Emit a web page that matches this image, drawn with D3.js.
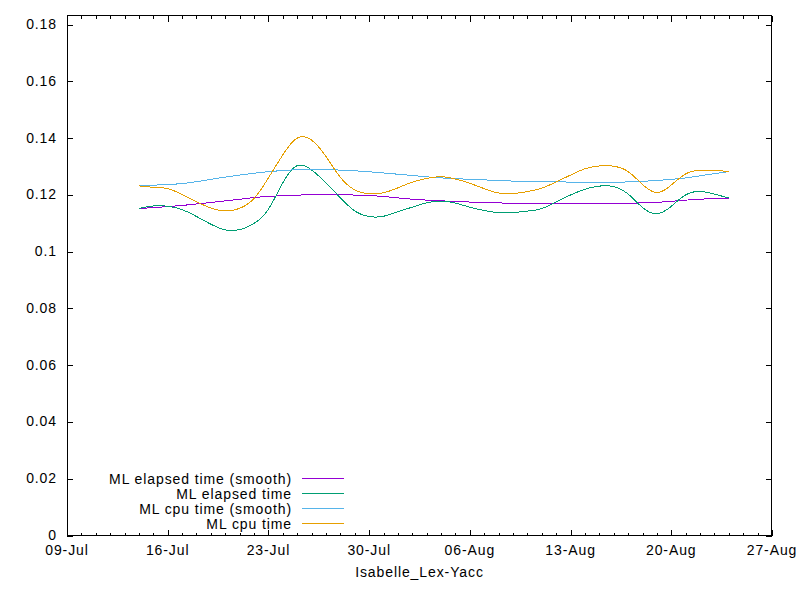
<!DOCTYPE html>
<html>
<head>
<meta charset="utf-8">
<script src="https://cdn.jsdelivr.net/npm/d3@7"></script>
<style>
body { margin: 0; background: #fff; }
text { font-family: "Liberation Sans", Arial, sans-serif; font-size: 14px; letter-spacing: 0.9px; fill: #000; }
</style>
</head>
<body>
<svg id="chart" width="800" height="600"></svg>
<script>
// one build per day, 14-Jul .. 24-Aug
var firstDay = "2018-07-14", lastDay = "2018-08-24";
var elapsed = [0.1152, 0.1161, 0.1160, 0.1148, 0.1124, 0.1097, 0.1077, 0.1078, 0.1100, 0.1150,
               0.1243, 0.1303, 0.1288, 0.1242, 0.1190, 0.1144, 0.1124, 0.1125, 0.1141, 0.1157,
               0.1172, 0.1178, 0.1171, 0.1157, 0.1145, 0.1138, 0.1138, 0.1143, 0.1152, 0.1176,
               0.1200, 0.1220, 0.1231, 0.1229, 0.1203, 0.1156, 0.1134, 0.1160, 0.1200, 0.1212,
               0.1203, 0.1189];
var cpu     = [0.1232, 0.1227, 0.1222, 0.1201, 0.1176, 0.1154, 0.1144, 0.1153, 0.1188, 0.1260,
               0.1341, 0.1400, 0.1393, 0.1335, 0.1262, 0.1218, 0.1204, 0.1208, 0.1225, 0.1245,
               0.1258, 0.1264, 0.1256, 0.1241, 0.1222, 0.1207, 0.1205, 0.1212, 0.1224, 0.1246,
               0.1270, 0.1292, 0.1302, 0.1301, 0.1282, 0.1237, 0.1209, 0.1235, 0.1274, 0.1287,
               0.1286, 0.1283];
// smoothed curves, read at a few dates
var elapsedSmoothDates = ["2018-07-14", "2018-07-17", "2018-07-20", "2018-07-23", "2018-07-27", "2018-07-30",
                          "2018-08-02", "2018-08-06", "2018-08-10", "2018-08-15", "2018-08-19", "2018-08-22", "2018-08-24"];
var elapsedSmooth = [0.1152, 0.1163, 0.1179, 0.1195, 0.1201, 0.1198, 0.1185, 0.1175, 0.1170, 0.1169, 0.1174, 0.1185, 0.1188];
var cpuSmoothDates = ["2018-07-14", "2018-07-17", "2018-07-20", "2018-07-23", "2018-07-26", "2018-07-29", "2018-08-01",
                      "2018-08-04", "2018-08-07", "2018-08-11", "2018-08-16", "2018-08-19", "2018-08-21", "2018-08-23", "2018-08-24"];
var cpuSmooth = [0.1233, 0.1240, 0.1263, 0.1282, 0.1290, 0.1285, 0.1273, 0.1260, 0.1253, 0.1246, 0.1245, 0.1251, 0.1260, 0.1275, 0.1282];
var yTicks = [0, 0.02, 0.04, 0.06, 0.08, 0.1, 0.12, 0.14, 0.16, 0.18];
var legendNames = ["ML elapsed time (smooth)", "ML elapsed time", "ML cpu time (smooth)", "ML cpu time"];
var colors = ["#9400d3", "#009e73", "#56b4e9", "#e69f00"];
var xTitle = "Isabelle_Lex-Yacc";

var parse = d3.timeParse("%Y-%m-%d");
var days = d3.timeDay.range(parse(firstDay), d3.timeDay.offset(parse(lastDay), 1));

var x = d3.scaleTime()
    .domain([parse("2018-07-09"), parse("2018-08-27")])
    .range([67, 772]);
var y = d3.scaleLinear().domain([0, 0.1834]).range([535.5, 15]);

var svg = d3.select("#chart");

// natural cubic spline y(x), like gnuplot csplines
function natSpline(xs, ys) {
    var n = xs.length, h = [], a = [], l = [], mu = [0], z = [0], c = [], b = [], d = [], i;
    for (i = 0; i < n - 1; i++) h[i] = xs[i+1] - xs[i];
    for (i = 1; i < n - 1; i++) {
        a[i] = 3/h[i]*(ys[i+1]-ys[i]) - 3/h[i-1]*(ys[i]-ys[i-1]);
        l[i] = 2*(xs[i+1]-xs[i-1]) - h[i-1]*mu[i-1];
        mu[i] = h[i]/l[i];
        z[i] = (a[i] - h[i-1]*z[i-1])/l[i];
    }
    c[n-1] = 0;
    for (i = n - 2; i >= 1; i--) c[i] = z[i] - mu[i]*c[i+1];
    c[0] = 0;
    for (i = 0; i < n - 1; i++) {
        b[i] = (ys[i+1]-ys[i])/h[i] - h[i]*(c[i+1] + 2*c[i])/3;
        d[i] = (c[i+1]-c[i])/(3*h[i]);
    }
    return function(v) {
        var k = Math.max(0, Math.min(n - 2, d3.bisectRight(xs, v) - 1));
        var dx = v - xs[k];
        return ys[k] + b[k]*dx + c[k]*dx*dx + d[k]*dx*dx*dx;
    };
}

function splinePts(dts, vals) {
    var xs = dts.map(function(d) { return +d; });
    var f = natSpline(xs, vals);
    return d3.range(0, 401).map(function(i) {
        var v = xs[0] + (xs[xs.length-1] - xs[0]) * i / 400;
        return [v, f(v)];
    });
}

var line = d3.line()
    .x(function(d) { return x(new Date(d[0])); })
    .y(function(d) { return y(d[1]); });

// ticks
var ticks = svg.append("g").attr("stroke", "#000").attr("shape-rendering", "crispEdges");
var allDays = d3.timeDay.range(x.domain()[0], d3.timeDay.offset(x.domain()[1], 1));
allDays.forEach(function(d, i) {
    var len = i % 7 == 0 ? 6 : 3;
    var px = Math.round(x(d)) + 0.5;
    ticks.append("line").attr("x1", px).attr("x2", px).attr("y1", 535.5).attr("y2", 535.5 - len);
    ticks.append("line").attr("x1", px).attr("x2", px).attr("y1", 15.5).attr("y2", 15.5 + len);
});
yTicks.forEach(function(v) {
    var py = Math.round(y(v)) + 0.5;
    ticks.append("line").attr("x1", 67).attr("x2", 73).attr("y1", py).attr("y2", py);
    ticks.append("line").attr("x1", 772).attr("x2", 766).attr("y1", py).attr("y2", py);
});

svg.append("rect")
    .attr("x", 67.5).attr("y", 15.5)
    .attr("width", 704).attr("height", 520)
    .attr("fill", "none").attr("stroke", "#000")
    .attr("shape-rendering", "crispEdges");

svg.selectAll(".ylab").data(yTicks).enter().append("text")
    .attr("x", 57).attr("y", function(d) { return y(d) + 4.5; })
    .attr("text-anchor", "end")
    .text(function(d) { return d3.format(".2~f")(d); });

var fmt = d3.timeFormat("%d-%b");
svg.selectAll(".xlab").data(allDays.filter(function(d, i) { return i % 7 == 0; })).enter().append("text")
    .attr("x", function(d) { return x(d); }).attr("y", 555)
    .attr("text-anchor", "middle")
    .text(fmt);

svg.append("text").attr("x", 419.5).attr("y", 577)
    .attr("text-anchor", "middle").text(xTitle);

// series (smooth ones through the read points, raw ones as csplines)
var smoothLine = d3.line()
    .x(function(d) { return x(d[0]); })
    .y(function(d) { return y(d[1]); })
    .curve(d3.curveMonotoneX);
var series = [
    smoothLine(d3.zip(elapsedSmoothDates.map(parse), elapsedSmooth)),
    line(splinePts(days, elapsed)),
    smoothLine(d3.zip(cpuSmoothDates.map(parse), cpuSmooth)),
    line(splinePts(days, cpu))
];
svg.selectAll(".series").data(series).enter().append("path")
    .attr("d", function(d) { return d; })
    .attr("fill", "none")
    .attr("stroke", function(d, i) { return colors[i]; })
    .attr("stroke-width", 1)
    .attr("shape-rendering", "crispEdges");

// legend
var lg = svg.append("g");
legendNames.forEach(function(name, i) {
    var ly = 478.5 + i * 15;
    lg.append("text").attr("x", 292).attr("y", ly + 5).attr("text-anchor", "end").text(name);
    lg.append("line").attr("x1", 302).attr("x2", 344).attr("y1", ly).attr("y2", ly)
        .attr("stroke", colors[i]).attr("shape-rendering", "crispEdges");
});
</script>
</body>
</html>
